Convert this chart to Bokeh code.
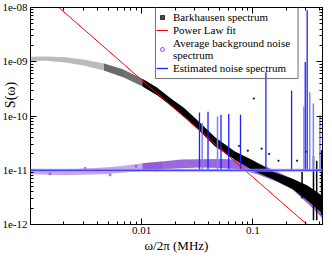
import math
from bokeh.plotting import figure
from bokeh.models import (LogAxis, FixedTicker, CustomJSTickFormatter, Span, Legend,
                          LegendItem, Range1d, ColumnDataSource)
from bokeh.embed import file_html
from bokeh.resources import INLINE

# ---------------- data ----------------
freq_range = [0.001, 0.423]          # MHz
s_range = [1e-12, 1e-8]

x_major = [0.01, 0.1]
x_minor = [0.002, 0.003, 0.004, 0.005, 0.006, 0.007, 0.008, 0.009,
           0.02, 0.03, 0.04, 0.05, 0.06, 0.07, 0.08, 0.09, 0.2, 0.3, 0.4]
y_major = [1e-12, 1e-11, 1e-10, 1e-9, 1e-8]
y_minor = [k * 10.0 ** e for e in (-12, -11, -10, -9) for k in range(2, 10)]

# Barkhausen spectrum: envelope of the dense cloud of points
bark_f = [0.00100, 0.00138, 0.00206, 0.00307, 0.00458, 0.00684, 0.0102, 0.0138,
          0.0186, 0.0241, 0.0307, 0.0458, 0.0684, 0.102, 0.152, 0.227, 0.307, 0.375, 0.423]
bark_hi = [1.23e-9, 1.25e-9, 1.21e-9, 1.09e-9, 9.3e-10, 7.2e-10, 4.8e-10, 3.3e-10,
           2.05e-10, 1.40e-10, 8.9e-11, 4.07e-11, 2.24e-11, 1.50e-11, 9.3e-12, 7.0e-12,
           5.3e-12, 4.0e-12, 3.3e-12]
bark_lo = [1.03e-9, 1.04e-9, 9.7e-10, 8.4e-10, 6.9e-10, 5.2e-10, 3.5e-10, 2.4e-10,
           1.49e-10, 9.8e-11, 6.2e-11, 2.73e-11, 1.57e-11, 9.7e-12, 6.8e-12, 4.5e-12,
           2.8e-12, 1.97e-12, 1.6e-12]
# isolated Barkhausen points and sharp peaks near the top end
bark_out_f = [0.075, 0.09, 0.12, 0.14, 0.17, 0.25, 0.102, 0.3]
bark_out_s = [2.8e-11, 2.3e-11, 2.5e-11, 2.0e-11, 1.5e-11, 1.5e-11, 2.1e-10, 2.2e-11]
bark_peak_f = [0.277, 0.351, 0.375, 0.415]
bark_peak_top = [9.3e-12, 1.84e-11, 1.5e-11, 2.34e-11]
bark_peak_bottom = [3.0e-12, 1.2e-12, 1.2e-12, 1.5e-12]

# Average background noise spectrum (cloud envelope)
bg_f = [0.00100, 0.00206, 0.00458, 0.00684, 0.0102, 0.0152, 0.0227, 0.0339, 0.0506,
        0.0755, 0.113, 0.168, 0.227, 0.307, 0.375, 0.423]
bg_hi = [1.07e-11, 1.03e-11, 1.12e-11, 1.21e-11, 1.34e-11, 1.45e-11, 1.57e-11, 1.6e-11,
         1.62e-11, 1.57e-11, 1.35e-11, 9.3e-12, 7.0e-12, 5.0e-12, 3.8e-12, 3.2e-12]
bg_lo = [8.4e-12, 8.1e-12, 8.4e-12, 9.1e-12, 9.7e-12, 1.04e-11, 1.09e-11, 1.12e-11,
         1.1e-11, 1.04e-11, 8.3e-12, 6.0e-12, 4.4e-12, 2.5e-12, 1.68e-12, 1.27e-12]
# a few individual background points (open circles in the legend)
bg_pt_f = [0.0015, 0.0031, 0.0052, 0.0089, 0.0135]
bg_pt_s = [8.6e-12, 1.08e-11, 8.2e-12, 1.18e-11, 1.0e-11]

# Power law fit (straight line in log-log)
fit_f = [0.00180, 0.307]
fit_s = [1e-8, 1e-12]

# Estimated noise spectrum: flat floor plus narrow peaks
noise_floor = 1e-11
spike_f = [0.0331, 0.0395, 0.0517, 0.0607, 0.0774, 0.131, 0.223, 0.296, 0.308]
spike_top = [1.16e-10, 1.2e-10, 1.05e-10, 1.09e-10, 1.05e-10, 6.4e-10, 2.96e-10, 9.9e-10, 8.9e-9]
spike2_f = [0.035, 0.0481, 0.288, 0.325, 0.350, 0.401]
spike2_top = [7.4e-11, 9.8e-11, 1.52e-10, 2.75e-10, 1.7e-10, 1.02e-10]

# ---------------- layout constants (not data) ----------------
FONT = "Liberation Serif"
# legend frame corners expressed in axis units
LEG_LEFT, LEG_RIGHT, LEG_BOTTOM, LEG_TOP = 0.0133, 0.255, 4.9e-10, 1e-8

p = figure(width=324, height=255, x_axis_type="log", y_axis_type="log",
           x_range=Range1d(*freq_range), y_range=Range1d(*s_range),
           output_backend="svg", toolbar_location=None,
           min_border_left=29, min_border_right=2, min_border_top=7, min_border_bottom=0)
p.background_fill_color = "white"
p.border_fill_color = "white"
p.outline_line_color = "black"
p.outline_line_width = 1
p.xgrid.visible = False
p.ygrid.visible = False

xfmt = CustomJSTickFormatter(code="return tick >= 0.1 ? tick.toFixed(1) : tick.toFixed(2);")
yfmt = CustomJSTickFormatter(code="""
const e = Math.round(Math.log10(tick)); const a = Math.abs(e);
return '1e' + (e < 0 ? '-' : '+') + (a < 10 ? '0' : '') + a;""")
blank = CustomJSTickFormatter(code="return '';")

def style_axis(ax):
    ax.major_tick_in = 6
    ax.major_tick_out = 0
    ax.minor_tick_in = 3
    ax.minor_tick_out = 0
    ax.axis_line_color = "black"
    ax.major_tick_line_color = "black"
    ax.minor_tick_line_color = "black"
    ax.major_label_text_font = FONT
    ax.major_label_text_font_size = "11px"
    ax.major_label_text_color = "black"
    ax.axis_label_text_font = FONT
    ax.axis_label_text_font_style = "normal"
    ax.axis_label_text_color = "black"

xa = p.xaxis[0]
xa.ticker = FixedTicker(ticks=x_major, minor_ticks=x_minor)
xa.formatter = xfmt
style_axis(xa)
xa.major_label_standoff = 2
xa.axis_label = "ω/2π (MHz)"
xa.axis_label_text_font_size = "13px"
xa.axis_label_standoff = 1

ya = p.yaxis[0]
ya.ticker = FixedTicker(ticks=y_major, minor_ticks=y_minor)
ya.formatter = yfmt
style_axis(ya)
ya.major_label_standoff = 3
# leading em-spaces move the visible text up, between the 1e-09 and 1e-10 labels
ya.axis_label = "\u2003\u2003\u2003S(ω)"
ya.axis_label_text_font_size = "14px"
ya.axis_label_standoff = -19

top = LogAxis(ticker=FixedTicker(ticks=x_major, minor_ticks=x_minor), formatter=blank)
style_axis(top)
top.major_label_text_font_size = "0px"
top.major_label_standoff = 0
p.add_layout(top, "above")
right = LogAxis(ticker=FixedTicker(ticks=y_major, minor_ticks=y_minor), formatter=blank)
style_axis(right)
right.major_label_text_font_size = "0px"
right.major_label_standoff = 0
p.add_layout(right, "right")

# ---------------- glyphs ----------------
bg_left = ColumnDataSource(dict(f=bg_f[:6], hi=bg_hi[:6], lo=bg_lo[:6]))
bg_right = ColumnDataSource(dict(f=bg_f[4:], hi=bg_hi[4:], lo=bg_lo[4:]))
p.varea(x="f", y1="lo", y2="hi", source=bg_left, fill_color="#9a62dc", fill_alpha=0.55)
p.varea(x="f", y1="lo", y2="hi", source=bg_right, fill_color="#8a4fd6", fill_alpha=0.85)
bg_pts = p.scatter(bg_pt_f, bg_pt_s, marker="circle", size=2, fill_color=None,
                   line_color="#a040f0", line_width=1)

src_a = ColumnDataSource(dict(f=bark_f[:6], hi=bark_hi[:6], lo=bark_lo[:6]))
src_b = ColumnDataSource(dict(f=bark_f[4:8], hi=bark_hi[4:8], lo=bark_lo[4:8]))
src_c = ColumnDataSource(dict(f=bark_f[6:], hi=bark_hi[6:], lo=bark_lo[6:]))
p.varea(x="f", y1="lo", y2="hi", source=src_a, fill_color="#b4b4b4", fill_alpha=0.9)
p.varea(x="f", y1="lo", y2="hi", source=src_b, fill_color="#606060", fill_alpha=0.9)
p.varea(x="f", y1="lo", y2="hi", source=src_c, fill_color="black")
bark_pts = p.scatter(bark_out_f, bark_out_s, marker="square", size=1.2, color="black",
                     alpha=0.7)
p.segment(x0=bark_peak_f, y0=bark_peak_bottom, x1=bark_peak_f, y1=bark_peak_top,
          line_color="black", line_width=1.5)

p.add_layout(Span(location=noise_floor, dimension="width", line_color="#9a9aff",
                  line_width=3, line_alpha=0.8))
p.add_layout(Span(location=noise_floor, dimension="width", line_color="#2a2aff",
                  line_width=1))
blue_r = p.segment(x0=spike_f, y0=[noise_floor] * len(spike_f), x1=spike_f, y1=spike_top,
                   line_color="#1f1fff", line_width=1.3)
p.segment(x0=spike2_f, y0=[noise_floor] * len(spike2_f), x1=spike2_f, y1=spike2_top,
          line_color="#7f7fff", line_width=1.5)

red_r = p.line(fit_f, fit_s, line_color="#ff0000", line_width=1)

# legend frame (drawn as a plain line, since box borders do not show here)
p.line([LEG_LEFT, LEG_LEFT, LEG_RIGHT, LEG_RIGHT], [LEG_TOP, LEG_BOTTOM, LEG_BOTTOM, LEG_TOP],
       line_color="#707070", line_width=1, level="overlay")

legend = Legend(items=[
    LegendItem(label="Barkhausen spectrum", renderers=[bark_pts]),
    LegendItem(label="Power Law fit", renderers=[red_r]),
    LegendItem(label="Average background noise\nspectrum", renderers=[bg_pts]),
    LegendItem(label="Estimated noise spectrum", renderers=[blue_r]),
], location=(126, 150))
legend.label_text_font = FONT
legend.label_text_font_size = "11px"
legend.label_text_color = "black"
legend.label_height = 10
legend.label_standoff = 5
legend.glyph_height = 10
legend.glyph_width = 12
legend.spacing = 1
legend.padding = 3
legend.margin = 0
legend.border_line_color = None
legend.background_fill_alpha = 0
p.add_layout(legend, "center")

open("out.html", "w").write(file_html(p, INLINE))
